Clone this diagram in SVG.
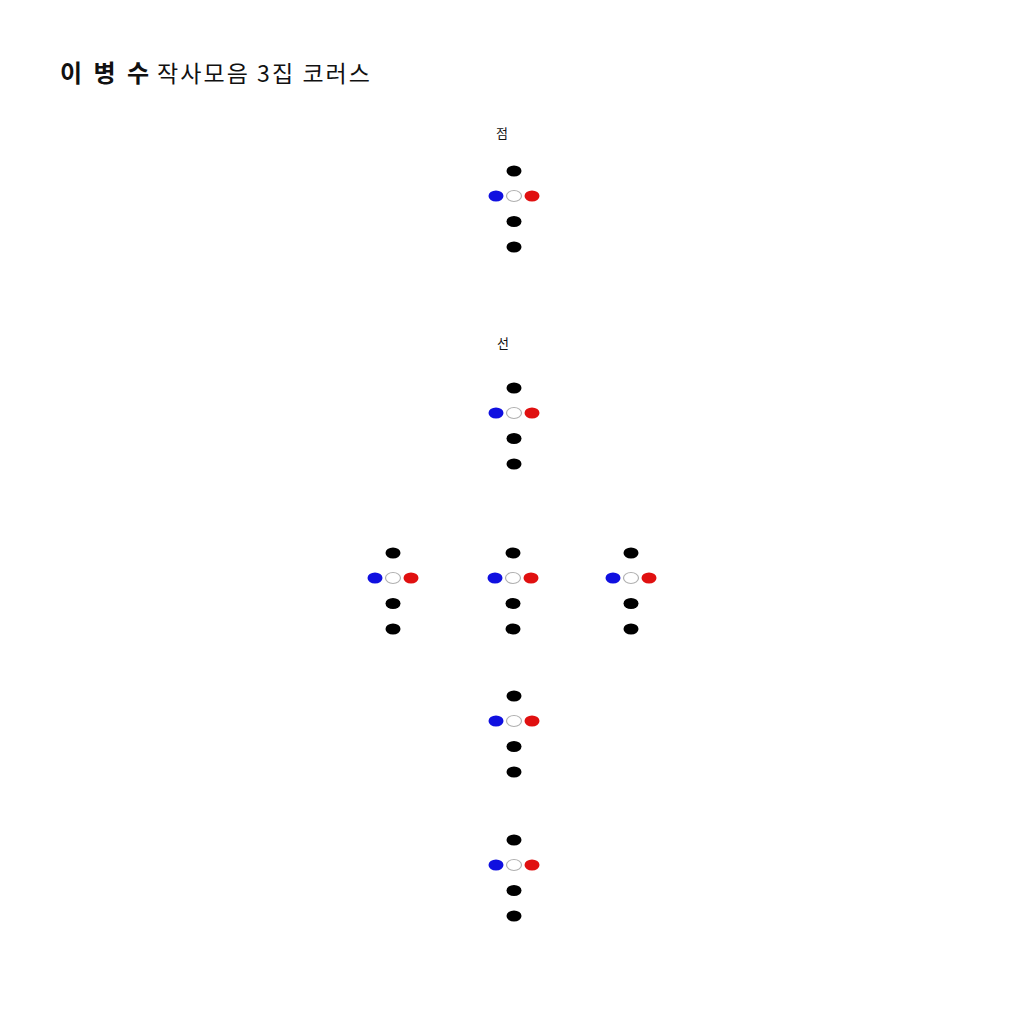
<svg xmlns="http://www.w3.org/2000/svg" width="1024" height="1024" viewBox="0 0 1024 1024">
<style>
.t{font-family:"Noto Sans CJK KR","Noto Sans",sans-serif;fill:#111}
.k{fill:#000}
.b{fill:#1010e0}
.r{fill:#e01010}
.w{fill:#fff;stroke:#b0b0b0;stroke-width:1.2}
</style>
<defs>
<g id="cross">
<ellipse class="k" cx="0" cy="-25" rx="7.5" ry="5.5"/>
<ellipse class="b" cx="-18" cy="0" rx="7.5" ry="5.5"/>
<ellipse class="w" cx="0" cy="0" rx="7.5" ry="5.5"/>
<ellipse class="r" cx="18" cy="0" rx="7.5" ry="5.5"/>
<ellipse class="k" cx="0" cy="25.5" rx="7.5" ry="5.5"/>
<ellipse class="k" cx="0" cy="51" rx="7.5" ry="5.5"/>
</g>
</defs>
<rect width="1024" height="1024" fill="#fff"/>
<g id="title">
<text class="t" x="60" y="82" font-size="24" font-weight="bold" textLength="89" lengthAdjust="spacing">이 병 수</text>
<text class="t" x="157" y="82" font-size="23" textLength="213" lengthAdjust="spacing">작사모음 3집 코러스</text>
</g>
<g id="label-jeom"><text class="t" x="496" y="138" font-size="13" fill="#333">점</text></g>
<g id="label-seon"><text class="t" x="497" y="348" font-size="13" fill="#333">선</text></g>
<g id="node1"><use href="#cross" x="514" y="196"/></g>
<g id="node2"><use href="#cross" x="514" y="413"/></g>
<g id="node3"><use href="#cross" x="393" y="578"/></g>
<g id="node4"><use href="#cross" x="513" y="578"/></g>
<g id="node5"><use href="#cross" x="631" y="578"/></g>
<g id="node6"><use href="#cross" x="514" y="721"/></g>
<g id="node7"><use href="#cross" x="514" y="865"/></g>
<g id="connectors"></g>
</svg>
